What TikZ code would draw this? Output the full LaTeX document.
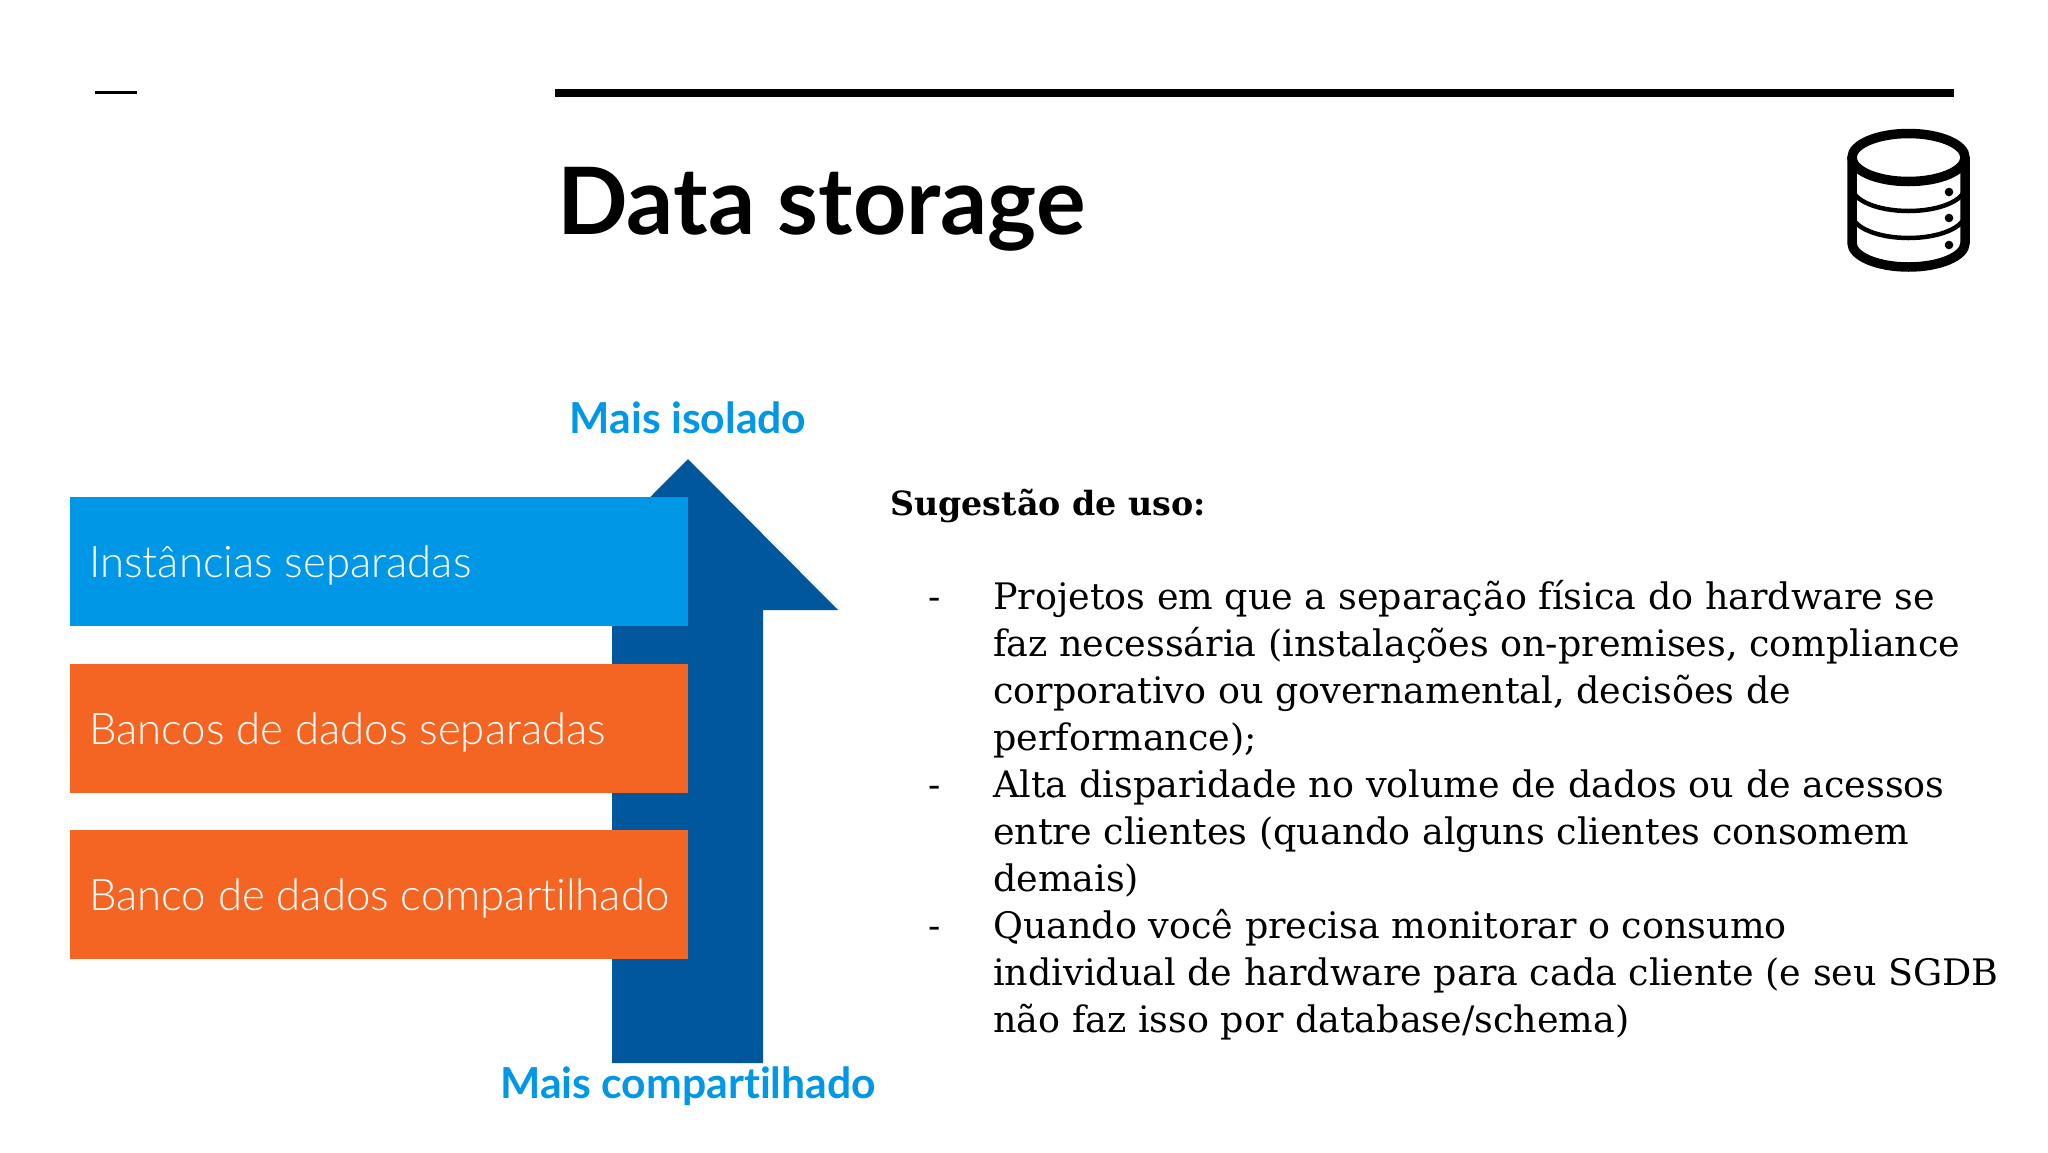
\documentclass[tikz,border=0pt]{standalone}
\usepackage{fontspec}
\setmainfont{DejaVu Serif}
\newfontfamily\headf{Lato}[UprightFont={* Bold},BoldFont={* Black},Ligatures=NoCommon]
\newfontfamily\lightf{Lato Light}[Ligatures=NoCommon]
\newfontfamily\bodyf{DejaVu Serif}
\definecolor{skyb}{HTML}{0097E6}
\definecolor{navyb}{HTML}{01579B}
\definecolor{orng}{HTML}{F46524}
\tikzset{
  x=1pt,y=-1pt,
  bar/.style={fill=#1,draw=none,minimum width=618pt,minimum height=128.5pt,inner sep=0pt,outer sep=0pt},
  barlabel/.style={text=white,anchor=base west,inner sep=0pt,font=\lightf\fontsize{43.7}{48}\selectfont},
  axislabel/.style={text=skyb,anchor=base,inner sep=0pt,font=\headf\fontsize{42.7}{48}\selectfont},
  bodytext/.style={anchor=base west,inner sep=0pt,align=left,font=\bodyf\fontsize{36.5}{47}\selectfont},
  rule/.style={draw=black,line width=#1},
  cyl/.style={draw=black,line width=9.5pt,fill=none},
  cylthin/.style={draw=black,line width=4.5pt,fill=none}
}
\begin{document}
\begin{tikzpicture}
\useasboundingbox (0,0) rectangle (2048,1152);
\fill[white] (0,0) rectangle (2048,1152);
\coordinate (d1) at (95,92.5); \coordinate (d2) at (137,92.5);
\coordinate (r1) at (555,93); \coordinate (r2) at (1954,93);
\draw[rule=3.5pt] (d1) -- (d2);
\draw[rule=8pt] (r1) -- (r2);
\node[anchor=base west,inner sep=0pt,font=\headf\fontsize{93}{96}\selectfont] (title) at (557,234) {Data storage};
% icon
\draw[cyl] (1908.5,157.5) ellipse (56.5 and 24);
\draw[cyl] (1852,157.5) -- (1852,243) arc[start angle=180,end angle=0,x radius=56.5,y radius=24] -- (1965,157.5);
\draw[cylthin] (1852,187) arc[start angle=180,end angle=0,x radius=56.5,y radius=24];
\draw[cylthin] (1852,214) arc[start angle=180,end angle=0,x radius=56.5,y radius=24];
\fill (1949,192) circle (4.3) (1949,218) circle (4.3) (1949,245) circle (4.3);
% arrow
\fill[navyb] (688,459) -- (838,610) -- (763,610) -- (763,1063) -- (612,1063) -- (612,610) -- (538,610) -- cycle;
\node[bar=skyb,anchor=north west] (b1) at (70,497) {};
\node[bar=orng,anchor=north west] (b2) at (70,664) {};
\node[bar=orng,anchor=north west] (b3) at (70,830) {};
\node[barlabel] at (89,577) {Instâncias separadas};
\node[barlabel] at (89,744) {Bancos de dados separadas};
\node[barlabel] at (89,910) {Banco de dados compartilhado};
\node[axislabel] (top) at (688,433) {Mais isolado};
\node[axislabel] (bot) at (688,1098) {Mais compartilhado};
\node[bodytext,font=\bodyf\bfseries\fontsize{33.3}{47}\selectfont] (h) at (890,515) {Sugestão de uso:};
\foreach \yy/\tt in {609/{Projetos em que a separação física do hardware se},
  656/{faz necessária (instalações on-premises, compliance},
  703/{corporativo ou governamental, decisões de},
  750/{performance);},
  797/{Alta disparidade no volume de dados ou de acessos},
  844/{entre clientes (quando alguns clientes consomem},
  891/{demais)},
  938/{Quando você precisa monitorar o consumo},
  985/{individual de hardware para cada cliente (e seu SGDB},
  1032/{não faz isso por database/schema)}}
  \node[bodytext] at (993,\yy) {\tt};
\node[bodytext] at (928,609) {-};
\node[bodytext] at (928,797) {-};
\node[bodytext] at (928,938) {-};
\end{tikzpicture}
\end{document}
